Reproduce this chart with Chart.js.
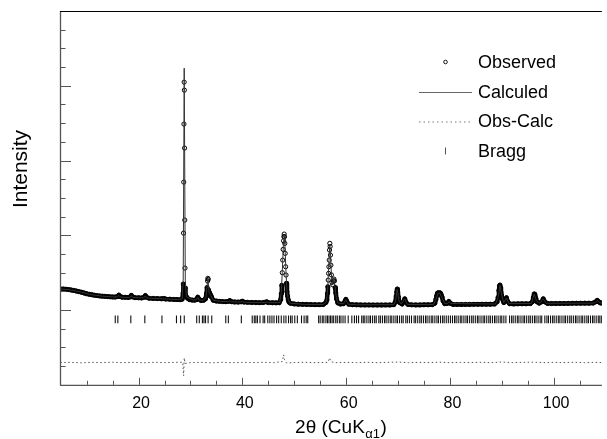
<!DOCTYPE html>
<html>
<head>
<meta charset="utf-8">
<script src="https://cdn.jsdelivr.net/npm/chart.js@4.4.0/dist/chart.umd.min.js"></script>
<style>
  html, body { margin: 0; padding: 0; background: #fff; }
  #wrap { width: 607px; height: 439px; position: relative; }
</style>
</head>
<body>
<div id="wrap"><canvas id="xrd"></canvas></div>
<script>
// values: [2theta (deg), intensity (arb. counts)]
const observed = [
  [4.9,282],[5.5,280],[6,278],[6.5,274],[7,268],[7.5,262],[8,254],[8.5,246],[9,238],[9.5,228],
  [10,218],[10.5,210],[11,204],[11.5,198],[12,193],[12.5,189],[13,186],[13.5,183],[14,180],[14.5,177],
  [15,175],[15.5,174],[16,180],[16.2,200],[16.4,182],[16.8,172],[17.4,170],[18,168],[18.4,176],[18.6,196],
  [18.8,176],[19.3,166],[20,164],[20.6,162],[21.1,172],[21.3,194],[21.5,172],[22,158],[22.8,156],[23.6,153],
  [24.4,150],[24.8,154],[25.2,148],[26,145],[26.8,142],[27.4,140],[28,138],[28.4,145],
  [28.58,227],[28.62,348],[28.66,1029],[28.7,1711],[28.74,2487],[28.78,3048],[28.82,2941],[28.86,2166],
  [28.9,1203],[28.94,561],[28.98,294],[29.05,200],[29.2,178],[29.4,160],[29.8,140],[30.3,133],[30.8,132],
  [31.2,140],[31.4,172],[31.6,150],[32,128],[32.5,130],[32.9,150],[33.1,223],[33.2,300],[33.3,388],
  [33.35,424],[33.42,410],[33.5,267],[33.6,230],[33.75,190],[33.9,200],[34.05,175],[34.4,130],[35,120],
  [35.6,116],[36.2,113],[36.8,112],[37.3,116],[37.6,126],[37.9,112],[38.5,108],[39.2,106],[39.8,110],
  [40,118],[40.3,106],[41,103],[41.8,101],[42.6,100],[43.3,99],[44,100],[44.7,110],[45,100],[45.8,97],
  [46.5,96],[47.1,98],[47.4,140],[47.5,220],[47.6,330],[47.7,500],[47.78,668],[47.86,811],[47.94,926],
  [48,983],[48.06,1016],[48.12,980],[48.18,892],[48.26,758],[48.34,579],[48.42,468],[48.5,357],[48.6,245],
  [48.72,187],[48.85,134],[49,105],[49.3,90],[50,82],[50.8,78],[51.6,76],[52.4,75],[53.2,73],[54,72],
  [54.8,72],[55.6,74],[56.1,100],[56.3,134],[56.4,223],[56.48,311],[56.55,401],[56.62,490],[56.68,579],
  [56.74,668],[56.8,802],[56.86,892],[56.92,850],[56.98,735],[57.06,600],[57.16,470],[57.28,370],
  [57.42,340],[57.55,390],[57.65,414],[57.75,390],[57.88,300],[58,230],[58.15,150],[58.4,95],[58.9,80],
  [59.5,85],[59.8,120],[59.95,143],[60.1,120],[60.5,78],[61.2,72],[62,70],[62.8,69],[63.6,68],[64.4,68],
  [65.2,67],[66,67],[66.8,67],[67.6,68],[68.4,68],[69.2,72],[69.5,110],[69.65,187],[69.75,240],[69.85,280],
  [69.95,240],[70.1,170],[70.3,100],[70.8,80],[71.1,110],[71.3,150],[71.5,110],[71.9,75],[72.6,70],
  [73.4,69],[74.2,69],[75,70],[75.8,70],[76.6,72],[77.1,90],[77.3,140],[77.45,190],[77.6,225],[77.75,230],
  [77.9,215],[78.05,230],[78.2,225],[78.35,200],[78.5,170],[78.7,120],[79,85],[79.5,88],[79.8,115],
  [80.1,90],[80.6,75],[81.4,74],[82.2,74],[83,75],[83.8,75],[84.6,76],[85.4,76],[86.2,77],[87,77],
  [87.8,78],[88.6,80],[89.1,110],[89.3,170],[89.45,260],[89.55,320],[89.65,334],[89.75,300],[89.85,240],
  [89.95,200],[90.1,150],[90.4,100],[90.7,120],[90.9,165],[91.1,120],[91.5,85],[92.3,82],[93.1,83],
  [93.9,84],[94.7,84],[95.5,86],[95.9,110],[96.1,170],[96.25,215],[96.4,200],[96.55,160],[96.8,110],
  [97.2,92],[97.7,110],[98,150],[98.3,110],[98.8,88],[99.6,87],[100.4,87],[101.2,88],[102,88],[102.8,89],
  [103.6,90],[104.4,90],[105.2,91],[106,92],[106.8,92],[107.6,93],[108.1,110],[108.4,130],[108.7,110],
  [109,95],[109.3,94]
];

const calculated = [
  [4.9,282],[7,268],[9,238],[11,204],[13,186],[15,175],[15.9,176],[16.2,196],[16.5,174],[17,171],
  [18.3,168],[18.6,192],[18.9,168],[20,164],[21,162],[21.3,190],[21.6,160],[22.5,157],[25,149],[27.5,140],
  [28.4,150],[28.6,400],[28.79,3235],[29,400],[29.2,175],[30.5,133],[31.1,135],[31.4,168],[31.7,133],
  [32.5,130],[33,170],[33.35,430],[33.6,225],[33.9,195],[34.4,130],[36,114],[37.3,113],[37.6,124],
  [37.9,111],[39.6,106],[40,116],[40.3,105],[42,100],[44.4,99],[44.7,108],[45,99],[47.2,98],[47.5,230],
  [47.7,520],[47.9,870],[48.06,1000],[48.2,880],[48.4,520],[48.6,250],[48.85,140],[49.2,92],[52,75],
  [55.6,74],[56.2,110],[56.45,280],[56.65,600],[56.85,880],[57,720],[57.2,430],[57.4,345],[57.62,410],
  [57.85,310],[58.1,170],[58.4,95],[59.5,82],[59.95,140],[60.4,78],[62,70],[69.2,72],[69.5,110],
  [69.85,275],[70.2,120],[70.6,80],[71.3,148],[71.8,75],[76.8,72],[77.3,140],[77.75,228],[78.05,226],
  [78.5,165],[79,85],[79.5,86],[79.8,112],[80.2,88],[88.8,80],[89.3,170],[89.65,330],[90,190],[90.4,100],
  [90.9,160],[91.4,86],[95.7,87],[96.25,212],[96.7,120],[97.3,92],[98,148],[98.6,90],[107.9,93],
  [108.4,128],[108.9,98],[109.3,94]
];

const obsMinusCalc = [
  [4.9,-702],[7,-700],[9,-706],[11,-699],[13,-703],[15,-698],[17,-704],[19,-700],[21,-706],[23,-699],
  [25,-703],[27,-700],[28.5,-698],[28.68,-880],[28.8,-640],[28.95,-715],[30,-703],[32,-700],[34,-706],
  [36,-699],[38,-704],[40,-700],[42,-703],[44,-699],[46,-704],[47.7,-690],[47.95,-600],[48.15,-665],
  [48.5,-708],[50,-702],[52,-699],[54,-704],[56.5,-700],[56.8,-640],[57.1,-692],[58,-704],[60,-700],
  [62,-703],[64,-699],[66,-704],[68,-700],[70,-696],[72,-704],[74,-700],[76,-703],[78,-697],[80,-704],
  [82,-700],[84,-703],[86,-699],[88,-704],[90,-695],[92,-703],[94,-700],[96,-697],[98,-704],[100,-700],
  [102,-703],[104,-699],[106,-704],[108,-700],[109.3,-702]
];

const braggPos = [
  15.5,16.0,18.5,21.2,24.5,27.3,28.1,28.8,31.2,31.7,32.3,32.6,32.9,33.4,34.1,36.8,37.3,39.8,
  41.9,42.3,42.6,42.9,43.4,44.0,44.3,44.9,45.3,45.7,46.1,46.6,47.0,47.5,48.0,48.4,48.9,49.3,49.6,50.1,
  50.6,51.4,51.9,52.3,52.6,54.7,55.0,55.4,55.7,56.1,56.4,56.7,57.0,57.3,57.6,58.0,58.3,58.7,59.0,59.4,
  59.8,60.4,61.1,61.6,62.0,62.4,63.0,63.3,63.6,64.0,64.4,64.7,65.1,65.5,65.8,66.3,66.6,67.0,67.4,67.7,
  68.1,68.5,68.8,69.2,69.6,69.9,70.3,70.7,71.0,71.5,71.8,72.2,72.6,73.1,73.4,73.8,74.2,74.5,74.9,75.3,
  75.6,76.0,76.4,76.7,77.1,77.5,77.8,78.2,78.6,78.9,79.3,79.7,80.1,80.5,80.9,81.2,81.6,82.0,82.3,82.7,
  83.1,83.4,83.8,84.2,84.5,84.9,85.3,85.6,86.0,86.4,86.7,87.1,87.5,87.8,88.2,88.6,88.9,89.3,89.7,90.0,
  90.4,90.8,91.5,91.9,92.2,92.6,93.0,93.3,93.7,94.1,94.4,94.8,95.2,95.5,95.9,96.3,96.6,97.0,97.4,97.7,
  98.3,98.7,99.0,99.4,99.8,100.1,100.5,100.9,101.2,101.6,102.0,102.3,102.7,103.1,103.4,103.8,104.2,
  104.5,104.9,105.3,105.6,106.0,106.4,106.7,107.1,107.5,107.8,108.2,108.6,108.9,109.2
];
const braggLevel = -125;

const xTickLabels = [20, 40, 60, 80, 100];
const legendLabels = ['Observed', 'Calculed', 'Obs-Calc', 'Bragg'];

const FONT = '"Liberation Sans", Arial, Helvetica, sans-serif';
const toPoints = arr => arr.map(p => ({ x: p[0], y: p[1] }));
const BAND_LIMIT = 360; // below this the dense observed points merge into a thick band

// frame, inward ticks and axis titles
const framePlugin = {
  id: 'frame',
  afterDatasetsDraw(chart) {
    const { ctx, chartArea: a, scales: { x, y } } = chart;
    const seg = (x1, y1, x2, y2) => { ctx.beginPath(); ctx.moveTo(x1, y1); ctx.lineTo(x2, y2); ctx.stroke(); };
    ctx.save();
    ctx.strokeStyle = '#555';
    ctx.lineWidth = 1;
    for (let v = y.min; v <= y.max; v += 250) {
      const py = Math.round(y.getPixelForValue(v)) + 0.5;
      seg(a.left, py, a.left + (v % 1000 === 0 ? 11 : 5.5), py);
    }
    for (let v = 10; v <= x.max; v += 5) {
      const px = Math.round(x.getPixelForValue(v)) + 0.5;
      seg(px, a.bottom, px, a.bottom - (v % 20 === 0 ? 7 : 4));
    }
    ctx.lineWidth = 1.3;
    seg(a.left + 0.5, a.top, a.left + 0.5, a.bottom + 0.5);
    seg(a.left, a.bottom + 0.5, a.right, a.bottom + 0.5);
    ctx.strokeStyle = '#000';
    ctx.lineWidth = 1;
    seg(a.left, a.top + 0.5, a.right, a.top + 0.5);

    // y title
    ctx.fillStyle = '#000';
    ctx.font = '21px ' + FONT;
    ctx.textAlign = 'center';
    ctx.textBaseline = 'middle';
    ctx.save();
    ctx.translate(21, 169);
    ctx.rotate(-Math.PI / 2);
    ctx.fillText('Intensity', 0, 0);
    ctx.restore();

    // x title with subscript
    ctx.textAlign = 'left';
    ctx.textBaseline = 'alphabetic';
    const main = '2θ (CuK', sub = 'α1';
    ctx.font = '19px ' + FONT;
    const w1 = ctx.measureText(main).width, w3 = ctx.measureText(')').width;
    ctx.font = '13px ' + FONT;
    const w2 = ctx.measureText(sub).width;
    let tx = 341 - (w1 + w2 + w3 + 1) / 2;
    const ty = 433;
    ctx.font = '19px ' + FONT;
    ctx.fillText(main, tx, ty);
    tx += w1 + 0.5;
    ctx.font = '13px ' + FONT;
    ctx.fillText(sub, tx, ty + 5);
    tx += w2 + 0.5;
    ctx.font = '19px ' + FONT;
    ctx.fillText(')', tx, ty);
    ctx.restore();
  }
};

// legend drawn inside the plot, top right
const legendPlugin = {
  id: 'insideLegend',
  afterDraw(chart) {
    const ctx = chart.ctx;
    const rows = [62, 92, 121.5, 151];
    const symX = 445.5, lineX0 = 419, lineX1 = 472, textX = 478;
    ctx.save();
    // Observed
    ctx.strokeStyle = '#000';
    ctx.lineWidth = 0.9;
    ctx.beginPath(); ctx.arc(symX, rows[0], 1.8, 0, Math.PI * 2); ctx.stroke();
    // Calculed
    ctx.strokeStyle = '#666';
    ctx.lineWidth = 1;
    ctx.beginPath(); ctx.moveTo(lineX0, rows[1] + 0.5); ctx.lineTo(lineX1, rows[1] + 0.5); ctx.stroke();
    // Obs-Calc
    ctx.strokeStyle = '#777';
    ctx.setLineDash([1.5, 3]);
    ctx.beginPath(); ctx.moveTo(lineX0, rows[2] + 0.5); ctx.lineTo(lineX1, rows[2] + 0.5); ctx.stroke();
    ctx.setLineDash([]);
    // Bragg
    ctx.strokeStyle = '#555';
    ctx.beginPath(); ctx.moveTo(symX, rows[3] - 3.5); ctx.lineTo(symX, rows[3] + 3.5); ctx.stroke();

    ctx.fillStyle = '#000';
    ctx.font = '18px ' + FONT;
    ctx.textBaseline = 'middle';
    legendLabels.forEach((t, i) => ctx.fillText(t, textX, rows[i] + 1));
    ctx.restore();
  }
};

const ctx = document.getElementById('xrd').getContext('2d');
new Chart(ctx, {
  type: 'scatter',
  data: {
    datasets: [
      {
        label: legendLabels[0],
        data: toPoints(observed),
        showLine: true,
        order: 1,
        borderColor: '#000',
        borderWidth: 4.5,
        borderJoinStyle: 'round',
        borderCapStyle: 'round',
        segment: {
          borderColor: c => (c.p0.parsed.y < BAND_LIMIT && c.p1.parsed.y < BAND_LIMIT) ? '#000' : 'rgba(0,0,0,0)'
        },
        pointStyle: 'circle',
        pointRadius: 2.1,
        pointBorderWidth: 1,
        pointBorderColor: '#000',
        pointBackgroundColor: 'rgba(0,0,0,0)'
      },
      {
        label: legendLabels[1],
        data: toPoints(calculated),
        showLine: true,
        order: 0,
        borderColor: '#333',
        borderWidth: 1,
        pointRadius: 0
      },
      {
        label: legendLabels[2],
        data: toPoints(obsMinusCalc),
        showLine: true,
        order: 2,
        borderColor: '#555',
        borderWidth: 1,
        borderDash: [1.5, 2.5],
        pointRadius: 0
      },
      {
        label: legendLabels[3],
        data: braggPos.map(v => ({ x: v, y: braggLevel })),
        order: 3,
        pointStyle: 'line',
        rotation: 90,
        pointRadius: 3.8,
        borderWidth: 1.1,
        borderColor: '#111'
      }
    ]
  },
  options: {
    responsive: true,
    maintainAspectRatio: false,
    animation: false,
    devicePixelRatio: 1,
    events: [],
    layout: { padding: { left: 60, top: 11, right: 0, bottom: 17 } },
    plugins: { legend: { display: false }, tooltip: { enabled: false } },
    scales: {
      x: {
        type: 'linear',
        min: 4.85,
        max: 109.3,
        afterBuildTicks: s => { s.ticks = xTickLabels.map(v => ({ value: v })); },
        grid: { display: false, drawTicks: false },
        border: { display: false },
        ticks: { color: '#000', font: { family: FONT, size: 16 }, padding: 9, labelOffset: 2.5, maxRotation: 0, autoSkip: false }
      },
      y: { type: 'linear', min: -1000, max: 4000, display: false }
    }
  },
  plugins: [framePlugin, legendPlugin]
});
</script>
</body>
</html>
